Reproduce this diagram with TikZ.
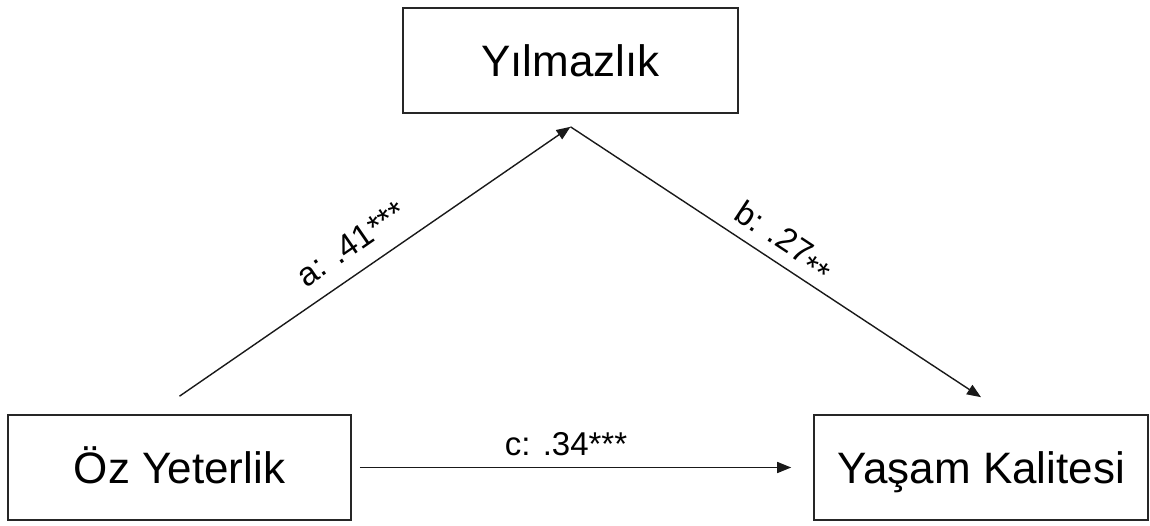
\documentclass[tikz,border=0pt]{standalone}
\usepackage{fontspec}
\setmainfont{Liberation Sans}
\usetikzlibrary{arrows.meta}
\begin{document}
\begin{tikzpicture}[x=1pt,y=-1pt,
  varbox/.style={draw=black!85, line width=1.6pt, minimum height=105pt, inner sep=0pt,
    text height=31pt, text depth=0pt, font=\fontsize{44}{52}\selectfont},
  conn/.style={draw=black!90, line width=1.4pt, -{Triangle[length=14pt,width=11pt]}},
  lbl/.style={font=\fontsize{33}{40}\selectfont, inner sep=0pt, text depth=0pt, sloped}
]
\useasboundingbox (0,0) rectangle (1150,525);
\node[varbox, minimum width=335pt] (M) at (570.5,60.5) {Yılmazlık};
\node[varbox, minimum width=343pt] (L) at (179.5,467.5) {Öz Yeterlik};
\node[varbox, minimum width=334pt] (R) at (981,467.5) {Yaşam Kalitesi};
\coordinate (apex) at ([yshift=-13pt]M.south);
\draw[conn] ([yshift=18pt]L.north) -- node[lbl, pos=0.48, above=16pt] {a: .41***} (apex);
\draw[conn] (apex) -- node[lbl, pos=0.49, above=12pt] {b: .27\raisebox{-9pt}{**}} ([yshift=17pt]R.north);
\draw[conn] ([xshift=8pt]L.east) -- node[lbl, pos=0.478, above=11pt] {c: .34***} ([xshift=-22pt]R.west);
\end{tikzpicture}
\end{document}
